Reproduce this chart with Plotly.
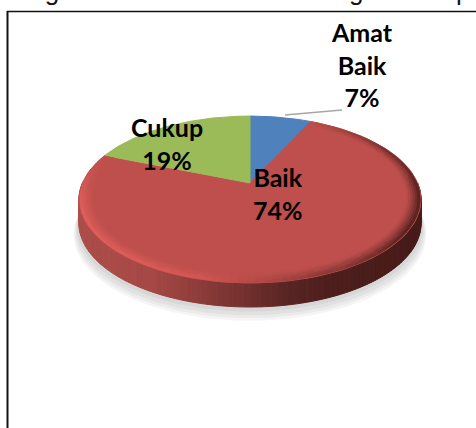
import numpy as np
import plotly.graph_objects as go

categories = ["Amat Baik", "Baik", "Cukup"]
values = [7, 74, 19]
label_lines = ["Amat<br>Baik", "Baik", "Cukup"]
colors = ["#4F81BD", "#BE4F4C", "#9BBB59"]
caption_parts = ["diagram data hasil", "bagian", "responden"]

W, H = 476, 428
CX, CY, A, B, P, DEPTH = 250, 183, 167.6, 80.2, 0.198, 24


def proj(t, r=1.0):
    t = np.radians(t)
    u, v = r * np.sin(t), r * np.cos(t)
    w = 1 + P * v
    return CX + A * u / w, CY - B * v / w


def mix(c1, c2, f):
    return tuple(a + (b - a) * f for a, b in zip(c1, c2))


def css(c):
    return "rgb(%d,%d,%d)" % tuple(int(round(x / 2) * 2) for x in c)


buckets = {}


def add_poly(color, xs, ys):
    b = buckets.setdefault(color, ([], []))
    b[0].extend(list(xs) + [xs[0], None])
    b[1].extend(list(ys) + [ys[0], None])


fig = go.Figure()

# soft ground shadow
for off, r, op in [(34, 1.03, .07), (32, 1.025, .07), (30, 1.018, .08), (27, 1.012, .09)]:
    t = np.linspace(0, 360, 181)
    x, y = proj(t, r)
    fig.add_trace(go.Scatter(x=x, y=y + off, mode="lines", fill="toself", fillcolor="rgba(120,120,120,%s)" % op,
                             line=dict(width=0), hoverinfo="skip", showlegend=False))

total = sum(values)
edges = np.cumsum([0] + values) / total * 360
red = edges[1], edges[2]

# side wall (front half)
sx = [79, 150, 200, 240, 280, 330, 421]
sc = [(172, 78, 75), (166, 72, 69), (140, 60, 58), (118, 50, 48), (92, 38, 36), (76, 30, 28), (72, 28, 26)]
ts = np.linspace(90, 270, 121)
for t1, t2 in zip(ts[:-1], ts[1:]):
    x1, y1 = proj(t1)
    x2, y2 = proj(t2)
    xm = (x1 + x2) / 2
    c = tuple(np.interp(xm, sx, [k[i] for k in sc]) for i in range(3))
    add_poly(css(c), [x1, x2, x2, x1], [y1, y2, y2 + DEPTH, y1 + DEPTH])

# top wedges
for i, col in enumerate(colors):
    t = np.linspace(edges[i], edges[i + 1], 90)
    x, y = proj(t)
    add_poly(col, [CX] + list(x), [CY] + list(y))

# bevel on the rim of the large slice
face = (190, 79, 76)
ang = [red[0], 60, 90, 125, 165, 195, 225, 260, 280, red[1]]
rim = [face, (120, 48, 46), (84, 32, 30), (82, 32, 30), (150, 60, 58), (215, 88, 84), (226, 96, 92), (224, 94, 90), (200, 84, 80), face]
rings = np.linspace(0.92, 0.995, 7)
ta = np.linspace(red[0] + 0.6, red[1] - 0.6, 107)
for t1, t2 in zip(ta[:-1], ta[1:]):
    tm = (t1 + t2) / 2
    outer = tuple(np.interp(tm, ang, [k[i] for k in rim]) for i in range(3))
    for r1, r2 in zip(rings[:-1], rings[1:]):
        f = ((r1 + r2) / 2 - rings[0]) / (rings[-1] - rings[0])
        c = mix(face, outer, f ** 1.2)
        xa, ya = proj(t1, r1)
        xb, yb = proj(t2, r1)
        xc, yc = proj(t2, r2)
        xd, yd = proj(t1, r2)
        add_poly(css(c), [xa, xb, xc, xd], [ya, yb, yc, yd])

for color, (xs, ys) in buckets.items():
    fig.add_trace(go.Scatter(x=xs, y=ys, mode="lines", fill="toself", fillcolor=color,
                             line=dict(color=color, width=1), hoverinfo="skip", showlegend=False))

# leader line
fig.add_trace(go.Scatter(x=[285, 342], y=[115, 110], mode="lines", line=dict(color="#A6A6A6", width=1.5),
                         hoverinfo="skip", showlegend=False))

label_pos = [(362, 64), (278, 193), (167, 143.5)]
annotations = []
for name, val, (lx, ly) in zip(label_lines, values, label_pos):
    annotations.append(dict(x=lx, y=ly, text="<b>%s<br>%d%%</b>" % (name, val), showarrow=False,
                            font=dict(family="Lato", size=25, color="#000000"),
                            xanchor="center", yanchor="middle", align="center"))
caption_x = [8, 318, 418]
for part, cx in zip(caption_parts, caption_x):
    annotations.append(dict(x=cx, y=8, text=part, showarrow=False, xanchor="left", yanchor="bottom",
                            font=dict(family="Liberation Sans", size=26, color="#111111")))

fig.update_layout(
    width=W, height=H, margin=dict(l=0, r=0, t=0, b=0),
    paper_bgcolor="white", plot_bgcolor="white", showlegend=False,
    xaxis=dict(range=[0, W], visible=False, fixedrange=True),
    yaxis=dict(range=[H, 0], visible=False, fixedrange=True),
    annotations=annotations,
    shapes=[
        dict(type="line", x0=7, x1=W, y0=11.5, y1=11.5, line=dict(color="#111111", width=1.5)),
        dict(type="line", x0=7.5, x1=7.5, y0=11, y1=H, line=dict(color="#111111", width=2)),
    ],
)
fig.write_html("out.html", config={"displayModeBar": False},
               post_script="document.body.style.margin='0';document.documentElement.style.overflow='hidden';")
